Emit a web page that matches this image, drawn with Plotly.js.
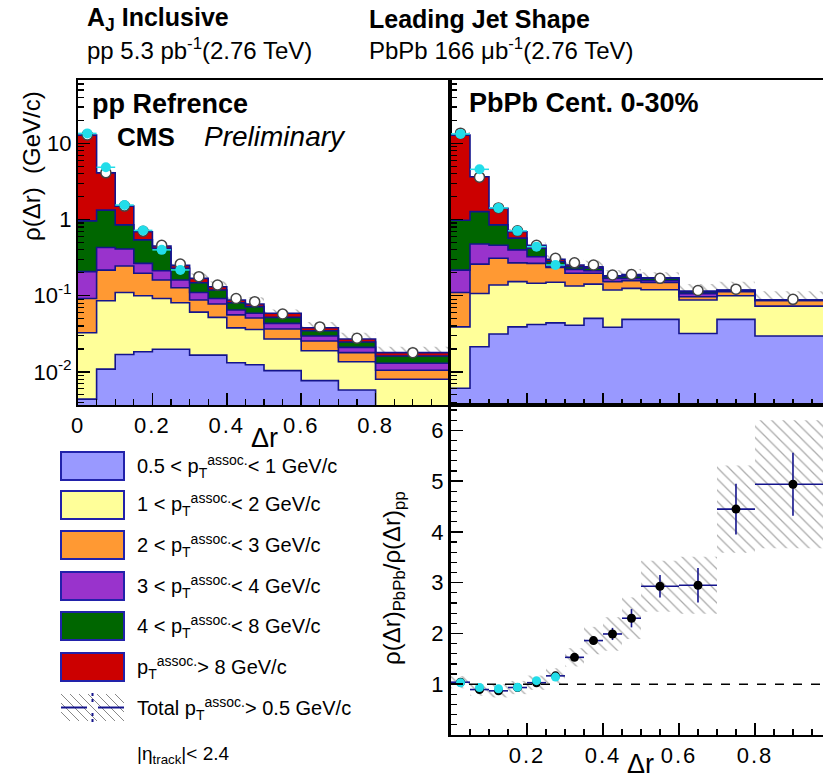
<!DOCTYPE html>
<html><head><meta charset="utf-8">
<script src="https://cdn.plot.ly/plotly-3.0.1.min.js"></script>
<style>
html,body{margin:0;padding:0;background:#fff;}
#chart{width:823px;height:782px;}
#chart .xtick text, #chart .x3tick text{letter-spacing:2px;}
</style></head><body><div id="chart"></div>
<script>
// ---------------- data ----------------
const binEdges   = [0,0.05,0.1,0.15,0.2,0.25,0.3,0.35,0.4,0.45,0.5,0.6,0.7,0.8,1.0];
const binCenters = [0.025,0.075,0.125,0.175,0.225,0.275,0.325,0.375,0.425,0.475,0.55,0.65,0.75,0.9];

// pp reference: cumulative stack tops (0.5-1, +1-2, +2-3, +3-4, +4-8, +>8 GeV/c)
const ppStack05_1 = [0.0044,0.0109,0.0169,0.0184,0.0198,0.0198,0.0166,0.0166,0.0132,0.0124,0.0104,0.0077,0.0058,0.003];
const ppStack1_2  = [0.0327,0.086,0.11,0.1,0.092,0.081,0.061,0.052,0.0378,0.036,0.027,0.019,0.0136,0.008];
const ppStack2_3  = [0.092,0.217,0.245,0.197,0.161,0.127,0.088,0.078,0.056,0.051,0.0366,0.0255,0.0179,0.0105];
const ppStack3_4  = [0.207,0.43,0.41,0.266,0.213,0.161,0.11,0.092,0.065,0.059,0.0434,0.0296,0.021,0.013];
const ppStack4_8  = [0.96,1.33,0.85,0.54,0.42,0.229,0.148,0.119,0.081,0.072,0.052,0.0347,0.0247,0.0162];
const ppStack8up  = [12.8,4.1,1.5,0.69,0.45,0.25,0.169,0.131,0.088,0.078,0.059,0.038,0.027,0.0179];
const ppTotal     = [12.9,4.1,1.5,0.7,0.46,0.26,0.178,0.138,0.092,0.0835,0.0575,0.039,0.0276,0.0179];
const ppSysFrac   = [0.03,0.03,0.04,0.05,0.06,0.08,0.10,0.12,0.13,0.14,0.15,0.16,0.18,0.20];
const ppCyan      = [13.5,4.85,1.55,0.72,0.40,0.218];

// PbPb 0-30%: cumulative stack tops
const pbStack05_1 = [0.0061,0.0214,0.0314,0.039,0.042,0.044,0.041,0.0505,0.0385,0.049,0.049,0.032,0.049,0.0296];
const pbStack1_2  = [0.039,0.107,0.138,0.153,0.146,0.15,0.134,0.142,0.119,0.125,0.12,0.088,0.1,0.073];
const pbStack2_3  = [0.11,0.26,0.31,0.27,0.266,0.235,0.197,0.197,0.153,0.158,0.149,0.097,0.113,0.087];
const pbStack3_4  = [0.217,0.477,0.46,0.40,0.325,0.245,0.222,0.213,0.169,0.168,0.158,0.106,0.117,0.087];
const pbStack4_8  = [0.98,1.27,0.85,0.57,0.42,0.279,0.24,0.23,0.18,0.182,0.17,0.112,0.118,0.088];
const pbStack8up  = [12.8,3.65,1.40,0.69,0.46,0.30,0.253,0.24,0.183,0.19,0.172,0.115,0.119,0.088];
const pbTotal     = [13.6,3.6,1.42,0.71,0.46,0.31,0.27,0.253,0.187,0.19,0.169,0.117,0.122,0.0897];
const pbSysFrac   = [0.03,0.04,0.05,0.06,0.08,0.10,0.12,0.14,0.16,0.18,0.20,0.22,0.25,0.28];
const pbCyan      = [13.3,4.56,1.42,0.71,0.44,0.253];

// ratio PbPb / pp
const ratioVal  = [1.04,0.895,0.87,0.935,1.03,1.165,1.53,1.86,1.99,2.30,2.93,2.95,4.45,4.94];
const ratioStat = [0.02,0.02,0.02,0.02,0.03,0.04,0.05,0.08,0.12,0.18,0.22,0.34,0.50,0.62];
const ratioSys  = [0.12,0.12,0.13,0.13,0.14,0.15,0.18,0.27,0.33,0.41,0.50,0.56,0.86,1.26];
const ratioCyan = [1.03,0.935,0.91,0.94,1.07,1.14];

const layerColors = ['#9999ff','#ffff99','#ff9933','#9933cc','#006600','#cc0000'];
const legendLabels = [
  '0.5 < p<sub>T</sub><sup>assoc.</sup>< 1 GeV/c',
  '1 < p<sub>T</sub><sup>assoc.</sup>< 2 GeV/c',
  '2 < p<sub>T</sub><sup>assoc.</sup>< 3 GeV/c',
  '3 < p<sub>T</sub><sup>assoc.</sup>< 4 GeV/c',
  '4 < p<sub>T</sub><sup>assoc.</sup>< 8 GeV/c',
  'p<sub>T</sub><sup>assoc.</sup>> 8 GeV/c'
];
const totalLabel = 'Total p<sub>T</sub><sup>assoc.</sup>> 0.5 GeV/c';
const etaLabel = '|η<sub>track</sub>|< 2.4';

// ---------------- helpers ----------------
const W = 823, H = 782;
const px = v => v / W;
const py = v => 1 - v / H;
const binWidths = binEdges.slice(1).map((e,i)=> e - binEdges[i]);
const halfWidths = binWidths.map(w => w/2);
const stepY = vals => vals.concat([vals[vals.length-1]]);
const NAVY = '#14148c';
const CYAN = '#22dde9';
const FONT = 'Liberation Sans, Arial, sans-serif';

const traces = [];
function addStack(xa, ya, levels){
  traces.push({type:'scatter', x:binEdges, y:binEdges.map(()=>1e-5), xaxis:xa, yaxis:ya,
    mode:'lines', line:{width:0, shape:'hv'}, hoverinfo:'skip'});
  levels.forEach((vals,i)=>traces.push({type:'scatter', x:binEdges, y:stepY(vals), xaxis:xa, yaxis:ya,
    mode:'lines', line:{shape:'hv', color:NAVY, width:1.6}, fill:'tonexty', fillcolor:layerColors[i], hoverinfo:'skip'}));
}
function hatchPattern(){
  return {shape:'\\', fgcolor:'#555', bgcolor:'rgba(0,0,0,0)', size:8, solidity:0.16, fillmode:'overlay'};
}
function addTop(xa, ya, levels, total, frac, cyan){
  addStack(xa, ya, levels);
  traces.push({type:'bar', x:binCenters, width:binWidths, xaxis:xa, yaxis:ya,
    base: total.map((t,i)=>t*(1-frac[i])), y: total.map((t,i)=>t*2*frac[i]),
    marker:{color:'rgba(0,0,0,0)', line:{width:0}, pattern:hatchPattern()}, hoverinfo:'skip'});
  traces.push({type:'scatter', mode:'markers', x:binCenters, y:total, xaxis:xa, yaxis:ya,
    marker:{color:'#ffffff', size:10, line:{color:'#444', width:1.5}}, hoverinfo:'skip'});
  traces.push({type:'scatter', mode:'markers', x:binCenters.slice(0,cyan.length), y:cyan, xaxis:xa, yaxis:ya,
    marker:{color:CYAN, size:10},
    error_x:{type:'data', array:halfWidths.slice(0,cyan.length), color:CYAN, thickness:1.5, width:0}, hoverinfo:'skip'});
}
addTop('x','y',[ppStack05_1,ppStack1_2,ppStack2_3,ppStack3_4,ppStack4_8,ppStack8up], ppTotal, ppSysFrac, ppCyan);
addTop('x2','y2',[pbStack05_1,pbStack1_2,pbStack2_3,pbStack3_4,pbStack4_8,pbStack8up], pbTotal, pbSysFrac, pbCyan);

// ratio
traces.push({type:'bar', x:binCenters, width:binWidths, xaxis:'x3', yaxis:'y3',
  base: ratioVal.map((v,i)=>v-ratioSys[i]), y: ratioSys.map(s=>2*s),
  marker:{color:'rgba(0,0,0,0)', line:{width:0}, pattern:hatchPattern()}, hoverinfo:'skip'});
traces.push({type:'scatter', mode:'markers', x:binCenters, y:ratioVal, xaxis:'x3', yaxis:'y3',
  marker:{color:'#000', size:9},
  error_x:{type:'data', array:halfWidths, color:NAVY, thickness:1.6, width:0},
  error_y:{type:'data', array:ratioStat, color:NAVY, thickness:1.6, width:0}, hoverinfo:'skip'});
traces.push({type:'scatter', mode:'markers', x:binCenters.slice(0,ratioCyan.length), y:ratioCyan, xaxis:'x3', yaxis:'y3',
  marker:{color:CYAN, size:9}, hoverinfo:'skip'});

// ---------------- axes ----------------
const minorX = [];
for (let k=1;k<20;k++){ if (k%4!==0) minorX.push(+(k*0.05).toFixed(2)); }
const minorLog = [];
for (let d=-3; d<=1; d++){ for (let m=2;m<=9;m++) minorLog.push(m*Math.pow(10,d)); }
const yLogRange = [-2.434, 1.831];
const tickFont = {size:22, family:FONT, color:'#000'};

function xAx(domain, range, anchor, labels, show){
  return {domain, range, anchor, showgrid:false, zeroline:false, showline:true, linecolor:'#000', linewidth:2, mirror:true,
    ticks:'inside', ticklen:12, tickwidth:1.5, tickcolor:'#000', tickmode:'array',
    tickvals: labels.v, ticktext: labels.t, showticklabels: show, tickfont:tickFont,
    minor:{ticks:'inside', ticklen:6, tickwidth:1.2, tickcolor:'#000', tickmode:'array', tickvals:minorX}};
}
function yLog(domain, anchor, show){
  return {domain, type:'log', range:yLogRange, anchor, showgrid:false, zeroline:false, showline:true,
    linecolor:'#000', linewidth: show ? 2 : 3, mirror:true,
    ticks:'inside', ticklen:12, tickwidth:1.5, tickcolor:'#000', tickmode:'array',
    tickvals:[0.01,0.1,1,10], ticktext:['10<sup>-2</sup>','10<sup>-1</sup>','1','10'],
    showticklabels: show, tickfont:tickFont,
    minor:{ticks:'inside', ticklen:6, tickwidth:1.2, tickcolor:'#000', tickmode:'array', tickvals:minorLog}};
}
const xLabels = {v:[0,0.2,0.4,0.6,0.8], t:['0','0.2','0.4','0.6','0.8']};
const xLabelsRatio = {v:[0.2,0.4,0.6,0.8], t:['0.2','0.4','0.6','0.8']};
const topDom = [py(405), py(80)];
const layout = {
  width:W, height:H, margin:{l:0,r:0,t:0,b:0},
  paper_bgcolor:'#fff', plot_bgcolor:'#fff', showlegend:false, hovermode:false, barmode:'overlay',
  font:{family:FONT, size:22, color:'#000'},
  xaxis: xAx([px(78),px(450)],[0,1],'y',xLabels,true),
  yaxis: yLog(topDom,'x',true),
  xaxis2: xAx([px(451),1],[0,0.979],'y2',{v:[0,0.2,0.4,0.6,0.8],t:['0','0.2','0.4','0.6','0.8']},false),
  yaxis2: yLog(topDom,'x2',false),
  xaxis3: xAx([px(451),1],[0,0.979],'y3',xLabelsRatio,true),
  yaxis3: {domain:[py(735),py(405)], range:[0,6.5], anchor:'x3', showgrid:false, zeroline:false, showline:true,
    linecolor:'#000', linewidth:3, mirror:true, ticks:'inside', ticklen:12, tickwidth:1.5, tickcolor:'#000',
    tickmode:'array', tickvals:[1,2,3,4,5,6], ticktext:['1','2','3','4','5','6'], tickfont:tickFont,
    minor:{ticks:'inside', ticklen:6, tickwidth:1.2, tickcolor:'#000', tickmode:'linear', tick0:0, dtick:0.2}},
  shapes:[], annotations:[]
};
layout.shapes.push({type:'line', xref:'x3', yref:'y3', x0:0, x1:0.979, y0:1, y1:1,
  line:{color:'#000', width:1.5, dash:'dash'}});

// ---------------- text ----------------
function ann(text, x, y, size, opts){
  layout.annotations.push(Object.assign({text, x:px(x), y:py(y), xref:'paper', yref:'paper',
    xanchor:'left', yanchor:'middle', showarrow:false, borderpad:0, font:{size, color:'#000', family:FONT}}, opts||{}));
}
ann('<b>A<sub>J</sub> Inclusive</b>', 86, 19, 25);
ann('pp 5.3 pb<sup>-1</sup>(2.76 TeV)', 86, 49, 24);
ann('<b>Leading Jet Shape</b>', 368, 19, 25);
ann('PbPb 166 μb<sup>-1</sup>(2.76 TeV)', 368, 49, 24);
ann('<b>pp Refrence</b>', 91, 104, 27);
ann('<b>CMS</b>', 116, 137, 26);
ann('<i>Preliminary</i>', 203, 137, 28);
ann('<b>PbPb Cent. 0-30%</b>', 468, 103, 27);
ann('ρ(Δr)\u00a0\u00a0(GeV/c)', 31, 166, 24, {xanchor:'center', textangle:-90});
ann('Δr', 264, 438, 27, {xanchor:'center'});
ann('Δr', 640, 764, 27, {xanchor:'center'});
ann('ρ(Δr)<sub>PbPb</sub>/ρ(Δr)<sub>pp</sub>', 393, 578, 24, {xanchor:'center', textangle:-90});

// ---------------- legend ----------------
const boxTops = [452,491,531,572,612,653];
boxTops.forEach((t,i)=>{
  layout.shapes.push({type:'rect', xref:'paper', yref:'paper', x0:px(61), x1:px(124), y0:py(t+28), y1:py(t),
    fillcolor:layerColors[i], line:{color:'#2222aa', width:2}});
  ann(legendLabels[i], 136, t+14, 20);
});
// total entry swatch: hatching + cross
for (let k=-2;k<7;k++){
  let x0 = 61 + k*9, y0 = 694, x1 = x0 + 27, y1 = 721;
  if (x0 < 61){ y0 += (61-x0); x0 = 61; }
  if (x1 > 124){ y1 -= (x1-124); x1 = 124; }
  if (x1 > x0) layout.shapes.push({type:'line', xref:'paper', yref:'paper', x0:px(x0), y0:py(y0), x1:px(x1), y1:py(y1),
    line:{color:'#888', width:1}});
}
[[61,87],[98,124]].forEach(s=>layout.shapes.push({type:'line', xref:'paper', yref:'paper',
  x0:px(s[0]), x1:px(s[1]), y0:py(707.5), y1:py(707.5), line:{color:NAVY, width:2}}));
[[693,702],[713,722]].forEach(s=>layout.shapes.push({type:'line', xref:'paper', yref:'paper',
  x0:px(92.5), x1:px(92.5), y0:py(s[0]), y1:py(s[1]), line:{color:NAVY, width:2, dash:'dot'}}));
ann(totalLabel, 136, 708, 20);
ann(etaLabel, 136, 755, 19);

Plotly.newPlot('chart', traces, layout, {staticPlot:true, displayModeBar:false});
</script></body></html>
